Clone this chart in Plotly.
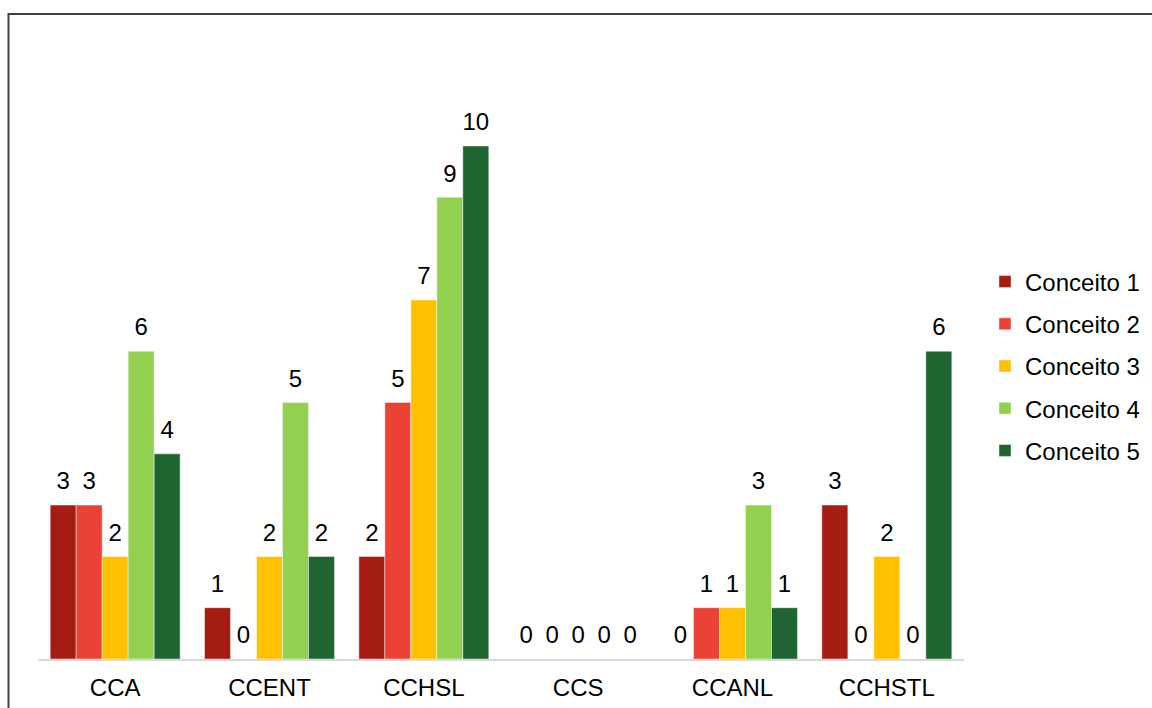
import plotly.graph_objects as go

categories = ["CCA", "CCENT", "CCHSL", "CCS", "CCANL", "CCHSTL"]
series_names = ["Conceito 1", "Conceito 2", "Conceito 3", "Conceito 4", "Conceito 5"]
conceito_1 = [3, 1, 2, 0, 0, 3]
conceito_2 = [3, 0, 5, 0, 1, 0]
conceito_3 = [2, 2, 7, 0, 1, 2]
conceito_4 = [6, 5, 9, 0, 3, 0]
conceito_5 = [4, 2, 10, 0, 1, 6]
series_values = [conceito_1, conceito_2, conceito_3, conceito_4, conceito_5]
colors = ["#A51C15", "#EA4336", "#FFC000", "#92D050", "#1F6532"]

FONT = "Liberation Sans, Arial, sans-serif"
FS = 24
W, H = 1152, 708
ML, MR, MT, MB = 38, 188, 20, 49
PX_PER_UNIT = 51.3
plot_h = H - MT - MB
plot_w = W - ML - MR
ymax = plot_h / PX_PER_UNIT

fig = go.Figure()
for name, vals, col in zip(series_names, series_values, colors):
    fig.add_trace(go.Bar(
        x=categories, y=vals, name=name, legendgroup=name,
        marker=dict(color=col, line=dict(color="rgba(255,255,255,0.45)", width=1)),
        hoverinfo="skip",
    ))
for name, vals in zip(series_names, series_values):
    fig.add_trace(go.Scatter(
        x=categories, y=vals, mode="markers+text", text=[str(v) for v in vals],
        textposition="top center", orientation="v",
        textfont=dict(family=FONT, size=FS, color="#000000"),
        marker=dict(size=14, opacity=0), showlegend=False, hoverinfo="skip",
        cliponaxis=False,
    ))

def px_to_paper_x(px):
    return (px - ML) / plot_w

def px_to_paper_y(py):
    return (H - MB - py) / plot_h

fig.update_layout(
    width=W, height=H,
    margin=dict(l=ML, r=MR, t=MT, b=MB, autoexpand=False),
    paper_bgcolor="white", plot_bgcolor="white",
    barmode="group", bargap=0.158, bargroupgap=0,
    scattermode="group", scattergap=0.158,
    font=dict(family=FONT, size=FS, color="#000000"),
    xaxis=dict(showline=True, linecolor="#D9D9D9", linewidth=2, ticks="",
               ticklabelstandoff=6,
               showgrid=False, zeroline=False, tickfont=dict(size=FS, color="#000000")),
    yaxis=dict(visible=False, range=[0, ymax], showgrid=False, zeroline=False),
    legend=dict(x=px_to_paper_x(985), xanchor="left", y=px_to_paper_y(366), yanchor="middle",
                font=dict(size=FS, color="#000000"), bgcolor="rgba(0,0,0,0)",
                traceorder="grouped", tracegroupgap=8),
    shapes=[dict(type="rect", xref="paper", yref="paper",
                 x0=px_to_paper_x(8.5), x1=px_to_paper_x(1300),
                 y0=px_to_paper_y(800), y1=px_to_paper_y(14),
                 line=dict(color="#404040", width=2), fillcolor="rgba(0,0,0,0)")],
)

fig.write_html("out.html", config={"displayModeBar": False},
               post_script="document.body.style.margin='0';document.body.style.overflow='hidden';")
